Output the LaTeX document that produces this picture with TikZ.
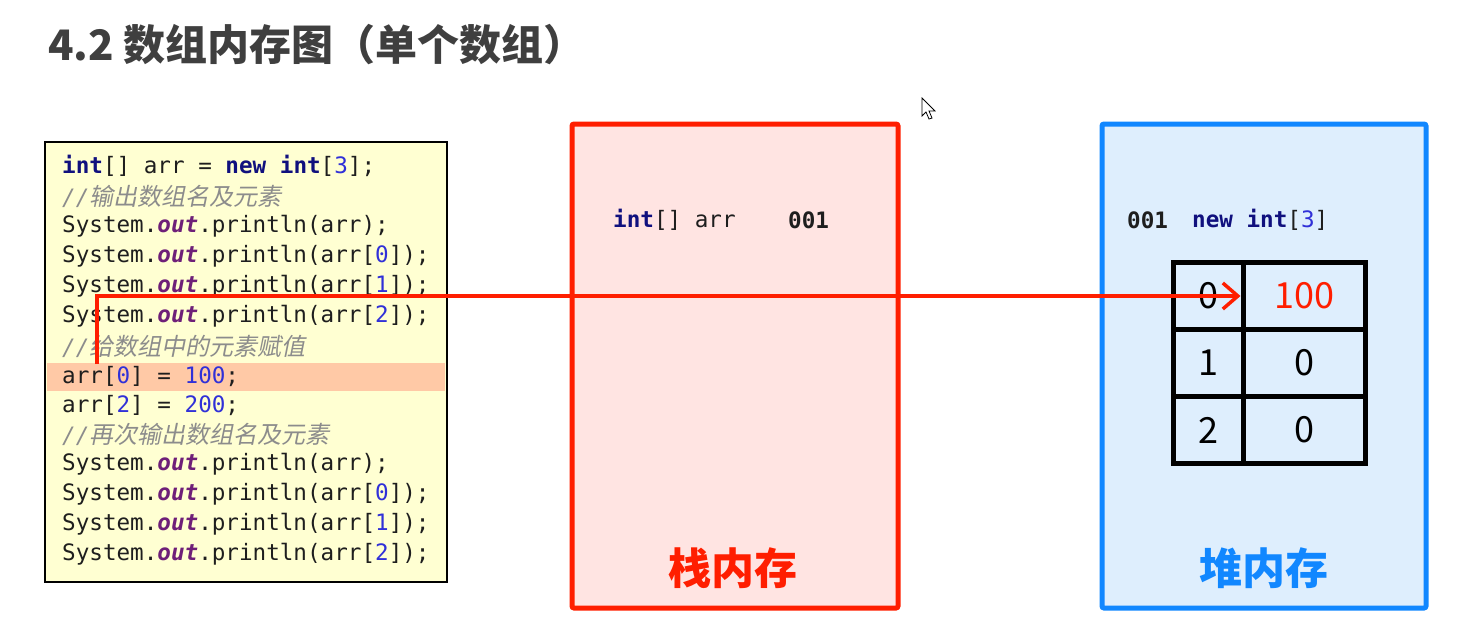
\documentclass[tikz,border=0pt]{standalone}
\usepackage{fontspec}
\setmonofont{DejaVu Sans Mono}
\newfontfamily\cjk{Noto Sans CJK SC}
\newfontfamily\cjkslant{Noto Sans CJK SC}[FakeSlant=0.2]
\usetikzlibrary{arrows.meta}
\definecolor{titlegray}{HTML}{3F3F3F}
\definecolor{codetext}{HTML}{1E1E1E}
\definecolor{kwblue}{HTML}{10107E}
\definecolor{numblue}{HTML}{3030D8}
\definecolor{outpurple}{HTML}{6E1F78}
\definecolor{cmtgray}{HTML}{8C8C8C}
\definecolor{codebg}{HTML}{FFFFD2}
\definecolor{hilite}{HTML}{FFC9A6}
\definecolor{stackred}{HTML}{FF1E00}
\definecolor{stackbg}{HTML}{FFE4E2}
\definecolor{heapblue}{HTML}{1187FF}
\definecolor{heapbg}{HTML}{DEEEFD}
\newcommand\kw[1]{\textcolor{kwblue}{\textbf{#1}}}
\newcommand\nm[1]{\textcolor{numblue}{#1}}
\newcommand\outf[1]{\textcolor{outpurple}{\textbf{\textit{#1}}}}
\newcommand\cmt[1]{{\color{cmtgray}\itshape //}{\color{cmtgray}\cjkslant\fontsize{24}{26}\selectfont #1}}
\tikzset{
 code/.style={anchor=west, inner sep=0pt, text=codetext,
   font=\fontsize{22.6}{26}\selectfont\ttfamily},
 memlabel/.style={inner sep=0pt, font=\cjk\bfseries\fontsize{43}{46}\selectfont},
 cell/.style={draw=black, line width=5pt, inner sep=0pt, minimum height=67pt,
   font=\cjk\fontsize{36}{38}\selectfont},
 idxcell/.style={cell, minimum width=70pt},
 valcell/.style={cell, minimum width=122pt},
}
\begin{document}
\begin{tikzpicture}[x=1pt,y=-1pt]
    \useasboundingbox (0,0) rectangle (1481,630);
    % title
    \node[anchor=west, inner sep=0pt, text=titlegray, font=\cjk\bfseries\fontsize{42}{46}\selectfont] (title) at (48,45) {4.2 数组内存图（单个数组）};
    % code listing
    \node[draw=black, line width=2pt, fill=codebg, minimum width=402pt, minimum height=440pt, inner sep=0pt] (codebox) at (246,362) {};
    \node[fill=hilite, minimum width=398pt, minimum height=28pt, inner sep=0pt] (hl) at (246,377) {};
    \node[code] (l1) at (62,166) {\kw{int}[] arr = \kw{new} \kw{int}[\nm{3}];};
    \node[code] (l2) at (62,196) {\cmt{输出数组名及元素}};
    \node[code] (l3) at (62,226) {System.\outf{out}.println(arr);};
    \node[code] (l4) at (62,256) {System.\outf{out}.println(arr[\nm{0}]);};
    \node[code] (l5) at (62,286) {System.\outf{out}.println(arr[\nm{1}]);};
    \node[code] (l6) at (62,316) {System.\outf{out}.println(arr[\nm{2}]);};
    \node[code] (l7) at (62,346) {\cmt{给数组中的元素赋值}};
    \node[code] (l8) at (62,376) {arr[\nm{0}] = \nm{100};};
    \node[code] (l9) at (62,405) {arr[\nm{2}] = \nm{200};};
    \node[code] (l10) at (62,434) {\cmt{再次输出数组名及元素}};
    \node[code] (l11) at (62,464) {System.\outf{out}.println(arr);};
    \node[code] (l12) at (62,494) {System.\outf{out}.println(arr[\nm{0}]);};
    \node[code] (l13) at (62,524) {System.\outf{out}.println(arr[\nm{1}]);};
    \node[code] (l14) at (62,554) {System.\outf{out}.println(arr[\nm{2}]);};
    % stack memory
    \node[draw=stackred, fill=stackbg, line width=5pt, rounded corners=2pt, minimum width=326pt, minimum height=484pt] (stack) at (735,366) {};
    \node[code] (var) at (613,220) {\kw{int}[] arr};
    \node[code] (addr) at (788,220) {\textbf{001}};
    \node[memlabel, text=stackred] (stacklbl) at (733,568) {栈内存};
    % heap memory
    \node[draw=heapblue, fill=heapbg, line width=5pt, rounded corners=2pt, minimum width=324pt, minimum height=484pt] (heap) at (1264,366) {};
    \node[code] (haddr) at (1127,220) {\textbf{001}};
    \node[code] (hnew) at (1192,220) {\kw{new} \kw{int}[\nm{3}]};
    \node[memlabel, text=heapblue] (heaplbl) at (1264,568) {堆内存};
    \node[idxcell] (i0) at (1208,296) {0};
    \node[valcell, text=stackred] (v0) at (1304,296) {100};
    \node[idxcell] (i1) at (1208,363) {1};
    \node[valcell] (v1) at (1304,363) {0};
    \node[idxcell] (i2) at (1208,430) {2};
    \node[valcell] (v2) at (1304,430) {0};
    % mouse pointer
    \draw[black, fill=white, line width=0.8pt] (922,98) -- (922,116) -- (926,112) -- (929,119) -- (932,118) -- (929,111) -- (935,111) -- cycle;
    % reference arrow
    \coordinate (src) at (97,364);
    \draw[stackred, line width=3.5pt, -{Straight Barb[length=15pt,width=26pt]}] (src) |- (v0.west);
\end{tikzpicture}
\end{document}
